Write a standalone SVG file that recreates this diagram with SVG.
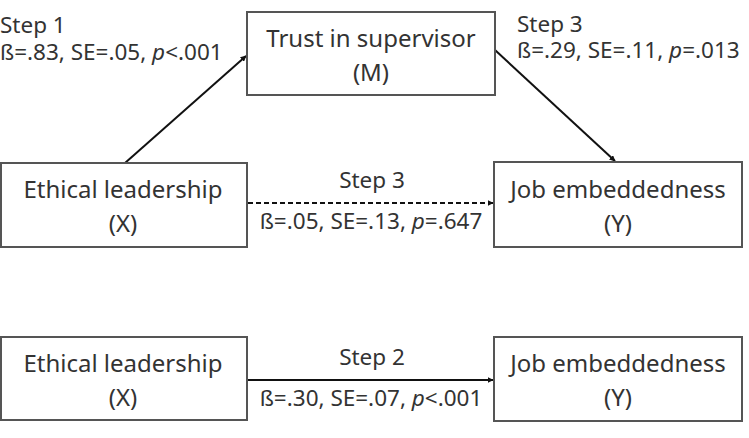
<svg xmlns="http://www.w3.org/2000/svg" width="749" height="438" viewBox="0 0 749 438">
  <defs>
    <marker id="arrow" viewBox="0 0 10 10" refX="9" refY="5" markerWidth="6" markerHeight="6" markerUnits="userSpaceOnUse" orient="auto">
      <path d="M0,0 L10,5 L0,10 z" fill="#111"/>
    </marker>
    <style>
      .box { fill: #fff; stroke: #555; stroke-width: 2; }
      .lbl { font-family: "Noto Sans", "Open Sans", sans-serif; font-size: 22.5px; fill: #333; }
      .name { font-size: 24px; }
      .mid { text-anchor: middle; }
      .edge { stroke: #111; stroke-width: 2; fill: none; marker-end: url(#arrow); }
      .dash { stroke-dasharray: 5 3; }
    </style>
  </defs>

  <!-- connectors -->
  <g id="connectors">
    <line class="edge" x1="125" y1="163" x2="246" y2="56"/>
    <line class="edge" x1="495" y1="50" x2="615" y2="161"/>
    <line class="edge dash" x1="248" y1="203" x2="493" y2="203"/>
    <line class="edge" x1="248" y1="380" x2="493" y2="380"/>

    <text class="lbl" x="0" y="33">Step 1</text>
    <text class="lbl" x="0" y="60">ß=.83, SE=.05, <tspan font-style="italic">p</tspan>&lt;.001</text>

    <text class="lbl" x="517" y="32">Step 3</text>
    <text class="lbl" x="517" y="58">ß=.29, SE=.11, <tspan font-style="italic">p</tspan>=.013</text>

    <text class="lbl mid" x="372" y="188">Step 3</text>
    <text class="lbl mid" x="371" y="229">ß=.05, SE=.13, <tspan font-style="italic">p</tspan>=.647</text>

    <text class="lbl mid" x="372" y="365">Step 2</text>
    <text class="lbl mid" x="371" y="406">ß=.30, SE=.07, <tspan font-style="italic">p</tspan>&lt;.001</text>
  </g>

  <!-- mediator -->
  <g id="trust">
    <rect class="box" x="247" y="12" width="248" height="83"/>
    <text class="lbl name mid" x="371" y="47">Trust in supervisor</text>
    <text class="lbl name mid" x="371" y="81">(M)</text>
  </g>

  <!-- mediation model -->
  <g id="ethical-1">
    <rect class="box" x="1" y="163" width="246" height="84"/>
    <text class="lbl name mid" x="123" y="198">Ethical leadership</text>
    <text class="lbl name mid" x="123" y="232">(X)</text>
  </g>
  <g id="job-1">
    <rect class="box" x="494" y="162" width="248" height="85"/>
    <text class="lbl name mid" x="618" y="198">Job embeddedness</text>
    <text class="lbl name mid" x="618" y="232">(Y)</text>
  </g>

  <!-- total effect model -->
  <g id="ethical-2">
    <rect class="box" x="1" y="337" width="246" height="83"/>
    <text class="lbl name mid" x="123" y="372">Ethical leadership</text>
    <text class="lbl name mid" x="123" y="406">(X)</text>
  </g>
  <g id="job-2">
    <rect class="box" x="494" y="337" width="248" height="84"/>
    <text class="lbl name mid" x="618" y="372">Job embeddedness</text>
    <text class="lbl name mid" x="618" y="406">(Y)</text>
  </g>
</svg>
